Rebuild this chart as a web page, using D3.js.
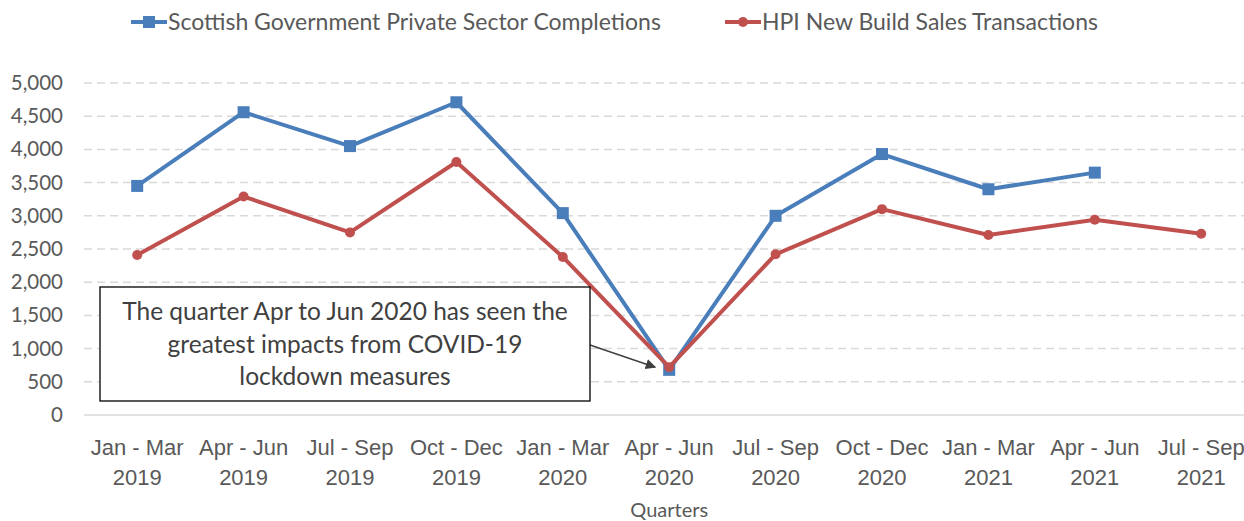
<!DOCTYPE html>
<html>
<head>
<meta charset="utf-8">
<script src="https://cdn.jsdelivr.net/npm/d3@7"></script>
<style>
  html, body { margin: 0; padding: 0; background: #fff; }
  svg { display: block; font-family: Lato, "Noto Sans", sans-serif; }
</style>
</head>
<body>
<svg id="chart" width="1244" height="521"></svg>
<script>
// Quarter labels (two lines each)
const quarters = ["Jan - Mar", "Apr - Jun", "Jul - Sep", "Oct - Dec", "Jan - Mar", "Apr - Jun",
                  "Jul - Sep", "Oct - Dec", "Jan - Mar", "Apr - Jun", "Jul - Sep"];
const years = ["2019", "2019", "2019", "2019", "2020", "2020", "2020", "2020", "2021", "2021", "2021"];

// Series values (null = not yet published)
const completions = [3450, 4560, 4050, 4710, 3040, 680, 3000, 3930, 3400, 3650, null];
const hpiSales    = [2410, 3290, 2750, 3810, 2380, 720, 2420, 3100, 2710, 2940, 2730];

const yTicks = [0, 500, 1000, 1500, 2000, 2500, 3000, 3500, 4000, 4500, 5000];

const seriesNames = ["Scottish Government Private Sector Completions", "HPI New Build Sales Transactions"];
const annotationLines = ["The quarter Apr to Jun 2020 has seen the", "greatest impacts from COVID-19", "lockdown measures"];

const BLUE = "#4a7ebb", RED = "#c0504d", TEXT = "#595959";

const svg = d3.select("#chart");
const keys = d3.range(quarters.length);

const x = d3.scaleBand().domain(keys).range([84, 1254.4]);
const y = d3.scaleLinear().domain([0, 5000]).range([415, 83]);
const cx = i => x(i) + x.bandwidth() / 2;

// Horizontal gridlines
svg.append("g").selectAll("line")
  .data(yTicks.filter(d => d > 0))
  .join("line")
  .attr("x1", 84).attr("x2", 1244)
  .attr("y1", d => y(d)).attr("y2", d => y(d))
  .attr("stroke", "#d9d9d9").attr("stroke-width", 1.5)
  .attr("stroke-dasharray", "8,5");

// Zero baseline
svg.append("line")
  .attr("x1", 84).attr("x2", 1244)
  .attr("y1", y(0)).attr("y2", y(0))
  .attr("stroke", "#d9d9d9").attr("stroke-width", 1.5);

// Y axis labels
const fmt = d3.format(",");
const yAxis = d3.axisLeft(y).tickValues(yTicks).tickFormat(fmt).tickSize(0).tickPadding(0);
const yg = svg.append("g").attr("transform", "translate(63,0)").call(yAxis);
yg.select(".domain").remove();
yg.selectAll("text").attr("font-size", 20.5).attr("fill", TEXT)
  .attr("font-family", "Lato, Noto Sans, sans-serif");

// X axis labels
const xAxis = d3.axisBottom(x).tickSize(0).tickFormat("");
const xg = svg.append("g").attr("transform", `translate(0,${y(0)})`).call(xAxis);
xg.select(".domain").remove();
xg.selectAll(".tick").each(function(i) {
  const t = d3.select(this).append("text")
    .attr("text-anchor", "middle").attr("fill", TEXT).attr("font-size", 22);
  t.append("tspan").attr("x", 0).attr("y", 40).text(quarters[i]);
  t.append("tspan").attr("x", 0).attr("y", 70).text(years[i]);
});

// Axis title
svg.append("text").attr("x", cx(5)).attr("y", 517)
  .attr("text-anchor", "middle").attr("fill", TEXT).attr("font-size", 20)
  .text("Quarters");

// Lines
const line = d3.line().defined(d => d != null).x((d, i) => cx(i)).y(d => y(d));

svg.append("path").datum(completions)
  .attr("d", line).attr("fill", "none").attr("stroke", BLUE)
  .attr("stroke-width", 4).attr("stroke-linejoin", "round");
svg.append("g").selectAll("rect")
  .data(completions.map((v, i) => ({ v, i })).filter(d => d.v != null))
  .join("rect")
  .attr("x", d => cx(d.i) - 6).attr("y", d => y(d.v) - 6)
  .attr("width", 12).attr("height", 12).attr("fill", BLUE);

svg.append("path").datum(hpiSales)
  .attr("d", line).attr("fill", "none").attr("stroke", RED)
  .attr("stroke-width", 4).attr("stroke-linejoin", "round");
svg.append("g").selectAll("circle")
  .data(hpiSales.map((v, i) => ({ v, i })).filter(d => d.v != null))
  .join("circle")
  .attr("cx", d => cx(d.i)).attr("cy", d => y(d.v))
  .attr("r", 5).attr("fill", RED);

// Legend
const legend = [
  { name: seriesNames[0], color: BLUE, x: 131, shape: "square" },
  { name: seriesNames[1], color: RED, x: 725, shape: "circle" }
];
legend.forEach(l => {
  const g = svg.append("g").attr("transform", `translate(${l.x},22)`);
  g.append("line").attr("x1", 0).attr("x2", 36).attr("y1", 0).attr("y2", 0)
    .attr("stroke", l.color).attr("stroke-width", 4);
  if (l.shape === "square") {
    g.append("rect").attr("x", 12).attr("y", -6).attr("width", 12).attr("height", 12).attr("fill", l.color);
  } else {
    g.append("circle").attr("cx", 18).attr("cy", 0).attr("r", 5).attr("fill", l.color);
  }
  g.append("text").attr("x", 37).attr("y", 8).attr("font-size", 23).attr("fill", TEXT).text(l.name);
});

// Annotation box with arrow
const defs = svg.append("defs");
defs.append("marker").attr("id", "arrowhead")
  .attr("viewBox", "0 0 10 10").attr("refX", 9).attr("refY", 5)
  .attr("markerWidth", 7).attr("markerHeight", 7).attr("orient", "auto")
  .append("path").attr("d", "M0,0 L10,5 L0,10 Z").attr("fill", "#404040");

svg.append("line")
  .attr("x1", 590).attr("y1", 345)
  .attr("x2", cx(5) - 14).attr("y2", y(720))
  .attr("stroke", "#404040").attr("stroke-width", 1.5)
  .attr("marker-end", "url(#arrowhead)");

svg.append("rect").attr("x", 100).attr("y", 287).attr("width", 490).attr("height", 114)
  .attr("fill", "#fff").attr("stroke", "#000").attr("stroke-width", 1.3);

const ann = svg.append("text").attr("text-anchor", "middle").attr("fill", "#404040").attr("font-size", 24.5);
annotationLines.forEach((s, k) => {
  ann.append("tspan").attr("x", 345).attr("y", 320 + k * 32.5).text(s);
});
</script>
</body>
</html>
